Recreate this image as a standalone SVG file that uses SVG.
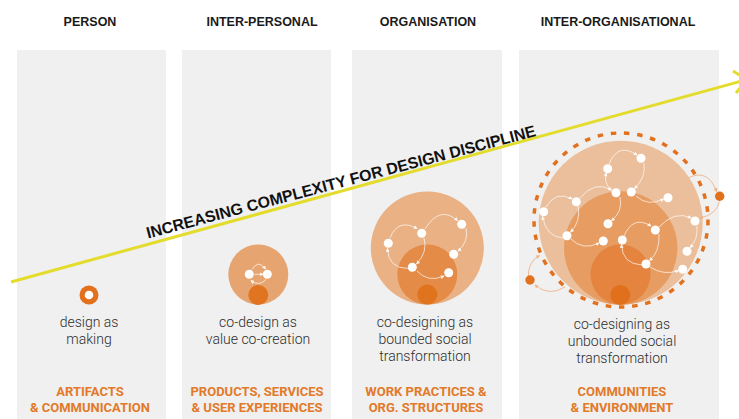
<svg xmlns="http://www.w3.org/2000/svg" width="739" height="419" viewBox="0 0 739 419">
<style>
.col{fill:#f0f0f0}
.hd{font-family:"Liberation Sans",Arial,sans-serif;font-weight:bold;font-size:12.5px;fill:#1a1a1a;text-anchor:middle}
.ds{font-family:Roboto,"Liberation Sans",sans-serif;font-weight:300;font-size:14px;fill:#2e2e2e;text-anchor:middle}
.lb{font-family:Roboto,"Liberation Sans",sans-serif;font-weight:bold;font-size:13px;fill:#e27a2a;text-anchor:middle}
.dot{fill:#ffffff}
.arc{fill:none;stroke:#ffffff;stroke-opacity:0.75;stroke-width:0.9;marker-end:url(#ah)}
.oarc{fill:none;stroke:#eeb48a;stroke-width:0.9;marker-end:url(#oh)}
.yl{fill:none;stroke:#e4dc2c;stroke-width:3}
</style>
<defs>
<marker id="ah" viewBox="0 0 6 6" refX="5" refY="3" markerWidth="4" markerHeight="4" orient="auto" markerUnits="userSpaceOnUse"><path d="M0,0 L6,3 L0,6 z" fill="#ffffff" fill-opacity="0.85"/></marker>
<marker id="oh" viewBox="0 0 6 6" refX="5" refY="3" markerWidth="4" markerHeight="4" orient="auto" markerUnits="userSpaceOnUse"><path d="M0,0 L6,3 L0,6 z" fill="#eeb48a"/></marker>
</defs>

<g id="columns">
<rect class="col" x="17" y="50" width="149" height="369"/>
<rect class="col" x="182" y="50" width="149" height="369"/>
<rect class="col" x="352" y="50" width="150" height="369"/>
<rect class="col" x="519" y="50" width="200" height="369"/>
</g>

<g id="headers">
<text class="hd" x="90" y="26">PERSON</text>
<text class="hd" x="262" y="26">INTER-PERSONAL</text>
<text class="hd" x="428" y="26">ORGANISATION</text>
<text class="hd" x="618" y="26">INTER-ORGANISATIONAL</text>
</g>

<g id="node-person">
<circle cx="89" cy="295" r="9.5" fill="#e2711d"/>
<circle cx="89" cy="295" r="4.3" fill="#ffffff"/>
<text class="ds" x="89" y="327">design as</text>
<text class="ds" x="89" y="344">making</text>
<text class="lb" x="90" y="396">ARTIFACTS</text>
<text class="lb" x="90" y="412">&amp; COMMUNICATION</text>
</g>

<g id="node-interpersonal">
<circle cx="258.3" cy="274.5" r="30" fill="#e6a570"/>
<circle cx="258.3" cy="295" r="10" fill="#e07420"/>
<path class="arc" d="M252,269.5 Q258.5,259 265.5,269"/>
<path class="arc" d="M254.5,274.3 L263,274.3"/>
<path class="arc" d="M266,279.5 Q259,287 251,280.5"/>
<circle class="dot" cx="249.3" cy="274.3" r="4.5"/>
<circle class="dot" cx="267.3" cy="274.3" r="4.5"/>
<text class="ds" x="258" y="327">co-design as</text>
<text class="ds" x="258" y="344">value co-creation</text>
<text class="lb" x="257" y="396">PRODUCTS, SERVICES</text>
<text class="lb" x="257" y="412">&amp; USER EXPERIENCES</text>
</g>

<g id="node-organisation">
<circle cx="427.3" cy="248" r="56.5" fill="#e9b184"/>
<circle cx="427.3" cy="274.5" r="30" fill="#e48b48"/>
<circle cx="427.3" cy="294.5" r="10" fill="#e0731e"/>
<path class="arc" d="M390,238 Q398,218 417,228.5"/>
<path class="arc" d="M425,229 Q440,205 457.5,220.5"/>
<path class="arc" d="M466,228 Q469,242 458,251"/>
<path class="arc" d="M424,238 Q428,252 416.5,264"/>
<path class="arc" d="M407.5,268.5 Q388,268 387.5,248.5"/>
<path class="arc" d="M417,271 Q428,283 444,276"/>
<circle class="dot" cx="388.3" cy="243.3" r="4.5"/>
<circle class="dot" cx="421.7" cy="233.3" r="4.5"/>
<circle class="dot" cx="461.7" cy="224.3" r="4.5"/>
<circle class="dot" cx="453.7" cy="254.3" r="4.5"/>
<circle class="dot" cx="412.3" cy="267.3" r="4.5"/>
<circle class="dot" cx="448.7" cy="272.7" r="4.5"/>
<text class="ds" x="425" y="327">co-designing as</text>
<text class="ds" x="425" y="344">bounded social</text>
<text class="ds" x="425" y="361">transformation</text>
<text class="lb" x="426" y="396">WORK PRACTICES &amp;</text>
<text class="lb" x="426" y="412">ORG. STRUCTURES</text>
</g>

<g id="node-interorganisational">
<circle cx="620.7" cy="222.7" r="82" fill="#ebbf9b"/>
<circle cx="620.7" cy="248" r="56.7" fill="#e79c62"/>
<circle cx="620.5" cy="274.5" r="30" fill="#e4843e"/>
<circle cx="620.3" cy="295" r="10" fill="#e0701b"/>
<circle cx="621" cy="220" r="87" fill="none" stroke="#e2711d" stroke-width="3.5" stroke-dasharray="5.5 7.8"/>
<path class="arc" d="M609,164 Q618,142 637,155"/>
<path class="arc" d="M644,163 Q646,178 634.5,188.5"/>
<path class="arc" d="M611,190 Q603,182 606.5,173"/>
<path class="arc" d="M620,197 Q623,212 611.5,220.5"/>
<path class="arc" d="M636,196 Q648,207 663.5,199"/>
<path class="arc" d="M580,198 Q595,180 611.5,190"/>
<path class="arc" d="M546,207 Q556,190 572,199"/>
<path class="arc" d="M578,206 Q581,222 570.5,232"/>
<path class="arc" d="M563,238 Q546,237 542.5,216.5"/>
<path class="arc" d="M571,239 Q583,251 599,243"/>
<path class="arc" d="M624,236 Q633,215 651,226"/>
<path class="arc" d="M642,265 Q622,264 621.5,244.5"/>
<path class="arc" d="M659,234 Q660,252 649.5,260.5"/>
<path class="arc" d="M659,227 Q675,210 691,218"/>
<path class="arc" d="M697,226 Q698,240 690,247.5"/>
<path class="arc" d="M650,267 Q664,276 678.5,270.5"/>
<path class="oarc" d="M688,178 Q708,168 716.5,191.5"/>
<path class="oarc" d="M719.5,201.5 Q716,215 700,218"/>
<path class="oarc" d="M528.3,276 Q528,262 539.5,255.5"/>
<path class="oarc" d="M565,287 Q549,297 535,285"/>
<circle cx="719.7" cy="196.3" r="4.7" fill="#e2711d"/>
<circle cx="530" cy="280" r="4.7" fill="#e2711d"/>
<circle class="dot" cx="641" cy="158.3" r="4.5"/>
<circle class="dot" cx="607.7" cy="168.7" r="4.5"/>
<circle class="dot" cx="616" cy="192.7" r="4.5"/>
<circle class="dot" cx="631.3" cy="192" r="4.5"/>
<circle class="dot" cx="668" cy="197.7" r="4.5"/>
<circle class="dot" cx="576.3" cy="201.7" r="4.5"/>
<circle class="dot" cx="543.7" cy="211.7" r="4.5"/>
<circle class="dot" cx="695" cy="221" r="4.5"/>
<circle class="dot" cx="608" cy="223.7" r="4.5"/>
<circle class="dot" cx="655.3" cy="230" r="4.5"/>
<circle class="dot" cx="567" cy="235.7" r="4.5"/>
<circle class="dot" cx="603.3" cy="241" r="4.5"/>
<circle class="dot" cx="622.3" cy="240" r="4.5"/>
<circle class="dot" cx="687" cy="251.3" r="4.5"/>
<circle class="dot" cx="646" cy="264" r="4.5"/>
<circle class="dot" cx="682.7" cy="269.3" r="4.5"/>
<text class="ds" x="622" y="328.5">co-designing as</text>
<text class="ds" x="622" y="345.5">unbounded social</text>
<text class="ds" x="622" y="362.5">transformation</text>
<text class="lb" x="622" y="396">COMMUNITIES</text>
<text class="lb" x="622" y="412">&amp; ENVIRONMENT</text>
</g>

<g id="connectors">
<path class="yl" d="M11,282 L747,79.5"/>
<polyline class="yl" points="733,71 747,79.5 736,93"/>
<text x="148" y="238.5" transform="rotate(-14.8 148 238.5)" font-family="'Liberation Sans',Arial,sans-serif" font-weight="bold" font-size="16" fill="#111" textLength="402" lengthAdjust="spacingAndGlyphs">INCREASING COMPLEXITY FOR DESIGN DISCIPLINE</text>
</g>
</svg>
